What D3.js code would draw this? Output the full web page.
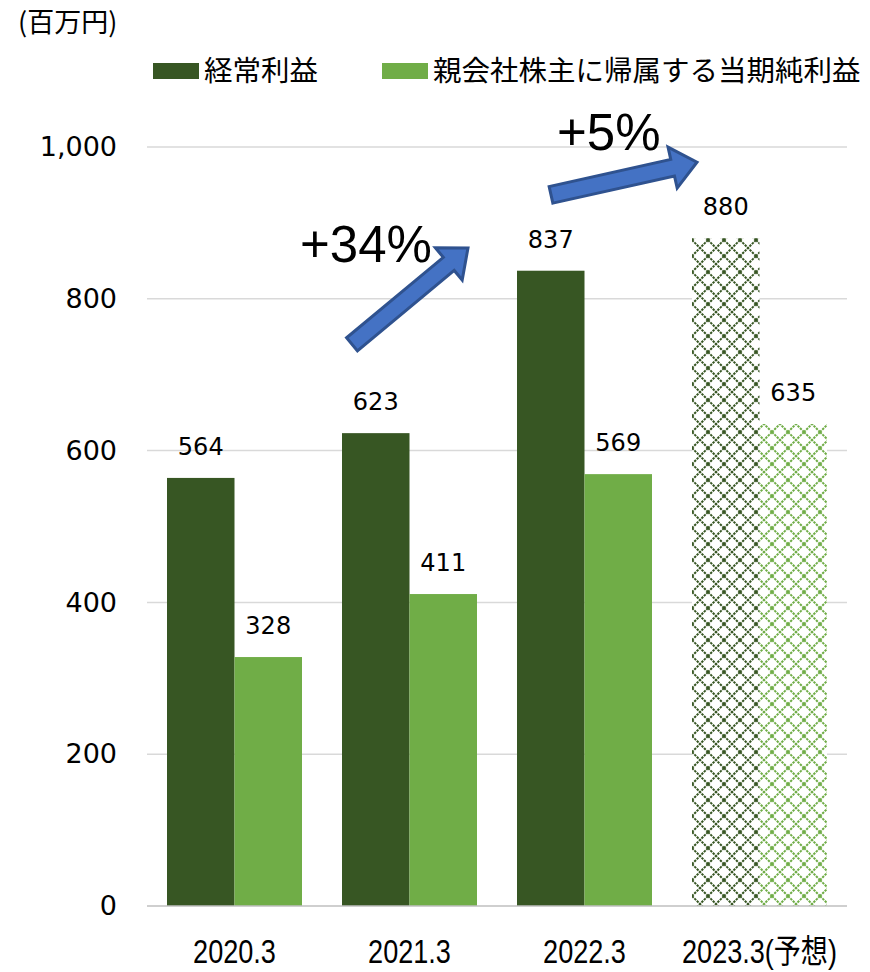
<!DOCTYPE html>
<html>
<head>
<meta charset="utf-8">
<script src="https://cdn.jsdelivr.net/npm/d3@7"></script>
<style>
  html, body { margin: 0; padding: 0; background: #fff; }
  svg { display: block; }
</style>
</head>
<body>
<svg id="chart" width="870" height="972"></svg>
<script>
// Fiscal years (the last one is a forecast)
const categories = ["2020.3", "2021.3", "2022.3", "2023.3(予想)"];
const forecastFlags = [false, false, false, true];
const seriesNames = ["経常利益", "親会社株主に帰属する当期純利益"];
const ordinaryProfit = [564, 623, 837, 880];
const netProfit = [328, 411, 569, 635];
const yTicks = [0, 200, 400, 600, 800, 1000];
const unitLabel = "(百万円)";
const growthNotes = ["+34%", "+5%"];

const colors = ["#375623", "#70AD47"];

const svg = d3.select("#chart");
const plot = { left: 147, right: 847, top: 147, bottom: 906 };

const x0 = d3.scaleBand().domain(categories).range([plot.left, plot.right]).padding(0);
const x1 = d3.scaleBand().domain([0, 1]).range([20, x0.bandwidth() - 20]).padding(0);
const y = d3.scaleLinear().domain([0, 1000]).range([plot.bottom, plot.top]);

// Lattice patterns for forecast bars
const defs = svg.append("defs");
colors.forEach((c, i) => {
  const p = defs.append("pattern")
    .attr("id", "hatch" + i)
    .attr("patternUnits", "userSpaceOnUse")
    .attr("width", 16).attr("height", 16)
    .attr("x", x0(categories[3]) + 20).attr("y", 0);
  p.append("rect").attr("width", 16).attr("height", 16).attr("fill", "#fff");
  [[0, 0, 16, 16], [16, 0, 0, 16]].forEach(l => {
    p.append("line")
      .attr("x1", l[0]).attr("y1", l[1]).attr("x2", l[2]).attr("y2", l[3])
      .attr("stroke", c).attr("stroke-width", 2)
      .attr("stroke-dasharray", "2.4 1");
  });
});

// Gridlines
svg.append("g").selectAll("line")
  .data(yTicks.filter(t => t > 0))
  .join("line")
  .attr("x1", plot.left).attr("x2", plot.right)
  .attr("y1", d => y(d)).attr("y2", d => y(d))
  .attr("stroke", "#D9D9D9").attr("stroke-width", 1.5);

// Y axis labels
const yAxis = d3.axisLeft(y).tickValues(yTicks).tickFormat(d3.format(",")).tickSize(0).tickPadding(0);
const gy = svg.append("g").attr("transform", `translate(${plot.left - 30},0)`).call(yAxis);
gy.select(".domain").remove();
gy.selectAll("text")
  .attr("font-family", "DejaVu Sans, Verdana, sans-serif")
  .attr("font-size", 27)
  .attr("fill", "#000");

// Bars with value labels
const series = [ordinaryProfit, netProfit];
const groups = svg.append("g").selectAll("g")
  .data(categories)
  .join("g")
  .attr("transform", d => `translate(${x0(d)},0)`);

groups.each(function(cat, ci) {
  const g = d3.select(this);
  series.forEach((vals, si) => {
    const v = vals[ci];
    g.append("rect")
      .attr("x", x1(si))
      .attr("y", y(v))
      .attr("width", x1.bandwidth())
      .attr("height", y(0) - y(v))
      .attr("fill", forecastFlags[ci] ? `url(#hatch${si})` : colors[si]);
    g.append("text")
      .attr("x", x1(si) + x1.bandwidth() / 2)
      .attr("y", y(v) - 23)
      .attr("text-anchor", "middle")
      .attr("font-family", "DejaVu Sans, Verdana, sans-serif")
      .attr("font-size", 24)
      .attr("fill", "#000")
      .text(v);
  });
});

// Baseline
svg.append("line")
  .attr("x1", plot.left).attr("x2", plot.right)
  .attr("y1", y(0)).attr("y2", y(0))
  .attr("stroke", "#BFBFBF").attr("stroke-width", 1.5);

// Category labels, horizontally condensed
const catLabels = svg.append("g").selectAll("text")
  .data(categories)
  .join("text")
  .attr("x", d => x0(d) + x0.bandwidth() / 2)
  .attr("y", 963)
  .attr("text-anchor", "middle")
  .attr("font-family", "Liberation Sans, Arial, 'Noto Sans CJK JP', sans-serif")
  .attr("font-size", 33)
  .attr("fill", "#000")
  .text(d => d);
catLabels.each(function() {
  const w = this.getComputedTextLength();
  d3.select(this).attr("textLength", w * 0.82).attr("lengthAdjust", "spacingAndGlyphs");
});

// Unit label
svg.append("text")
  .attr("x", 18).attr("y", 32)
  .attr("font-family", "'Noto Sans CJK JP', sans-serif")
  .attr("font-size", 27)
  .attr("fill", "#000")
  .text(unitLabel);

// Legend
const legendX = [153, 382];
seriesNames.forEach((name, i) => {
  svg.append("rect")
    .attr("x", legendX[i]).attr("y", 63)
    .attr("width", 46).attr("height", 16)
    .attr("fill", colors[i]);
  svg.append("text")
    .attr("x", legendX[i] + 51).attr("y", 81)
    .attr("font-family", "'Noto Sans CJK JP', sans-serif")
    .attr("font-size", 28.5)
    .attr("fill", "#000")
    .text(name);
});

// Growth arrows between year groups
function blockArrow(tx, ty, hx, hy) {
  const dx = hx - tx, dy = hy - ty;
  const len = Math.hypot(dx, dy);
  const ux = dx / len, uy = dy / len;
  const nx = -uy, ny = ux;
  const sw = 8.5, hw = 21, hl = 25;
  const bx = hx - ux * hl, by = hy - uy * hl;
  const pts = [
    [tx + nx * sw, ty + ny * sw],
    [bx + nx * sw, by + ny * sw],
    [bx + nx * hw, by + ny * hw],
    [hx, hy],
    [bx - nx * hw, by - ny * hw],
    [bx - nx * sw, by - ny * sw],
    [tx - nx * sw, ty - ny * sw]
  ];
  svg.append("path")
    .attr("d", d3.line()(pts) + "Z")
    .attr("fill", "#4472C4")
    .attr("stroke", "#2F528F")
    .attr("stroke-width", 3)
    .attr("stroke-linejoin", "miter");
}
blockArrow(x0(categories[1]) + 30, y(740), x0(categories[2]) - 29, y(867));
blockArrow(x0(categories[2]) + 54, y(937), x0(categories[3]) + 25, y(980));

// Growth labels
svg.append("text")
  .attr("x", x0(categories[1]) - 22).attr("y", y(848))
  .attr("font-family", "Liberation Sans, Arial, sans-serif")
  .attr("font-size", 51).attr("fill", "#000")
  .text(growthNotes[0]);
svg.append("text")
  .attr("x", x0(categories[2]) + 60).attr("y", y(996))
  .attr("font-family", "Liberation Sans, Arial, sans-serif")
  .attr("font-size", 51).attr("fill", "#000")
  .text(growthNotes[1]);
</script>
</body>
</html>
